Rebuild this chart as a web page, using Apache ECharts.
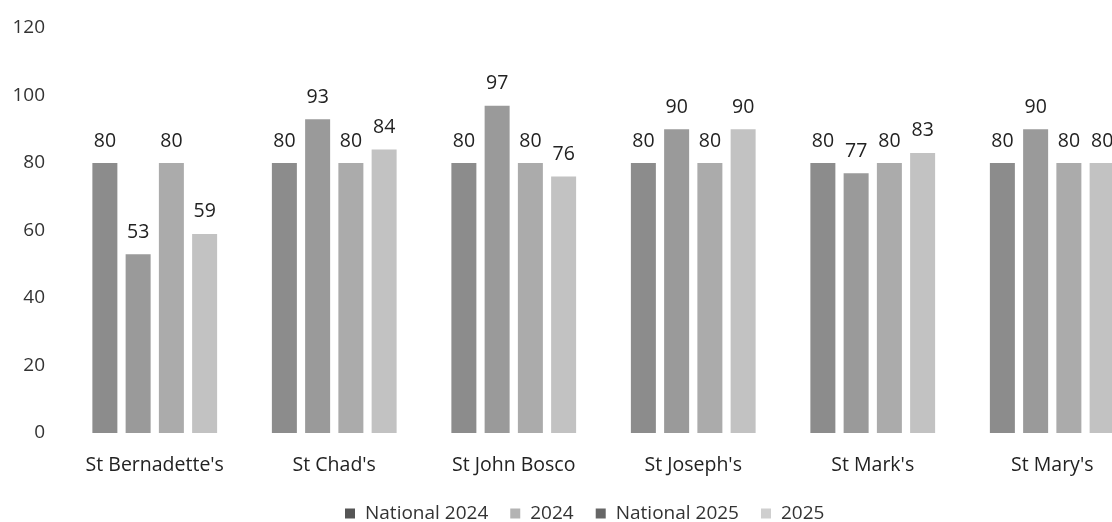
<!DOCTYPE html>
<html>
<head>
<meta charset="utf-8">
<script src="https://cdn.jsdelivr.net/npm/echarts@6/dist/echarts.min.js"></script>
<style>
html,body{margin:0;padding:0;background:#fff;overflow:hidden;}
#chart{width:1142px;height:522px;}
</style>
</head>
<body>
<div id="chart"></div>
<script>
const categories = ["St Bernadette's", "St Chad's", "St John Bosco", "St Joseph's", "St Mark's", "St Mary's"];
const national2024 = [80, 80, 80, 80, 80, 80];
const school2024 = [53, 93, 97, 90, 77, 90];
const national2025 = [80, 80, 80, 80, 80, 80];
const school2025 = [59, 84, 76, 90, 83, 80];
const seriesNames = ["National 2024", "2024", "National 2025", "2025"];
const yTicks = [0, 20, 40, 60, 80, 100, 120];

const barColors = ['#8c8c8c', '#9a9a9a', '#ababab', '#c2c2c2'];
const legendColors = ['#555555', '#b3b3b3', '#666666', '#cfcfcf'];
const FONT = '"Open Sans", sans-serif';

const chart = echarts.init(document.getElementById('chart'), null, {renderer: 'canvas'});
const allData = [national2024, school2024, national2025, school2025];

chart.setOption({
  animation: false,
  backgroundColor: '#ffffff',
  grid: {left: 65, right: 0, top: 28, bottom: 89, containLabel: false},
  legend: {
    top: 499,
    left: 340,
    icon: 'rect',
    itemWidth: 10,
    itemHeight: 10,
    itemGap: 22,
    textStyle: {fontFamily: FONT, fontSize: 19, color: '#333', padding: [0, 0, 0, 5]},
    data: seriesNames.map((n, i) => ({name: n, itemStyle: {color: legendColors[i]}}))
  },
  xAxis: {
    type: 'category',
    data: categories,
    axisLine: {show: false},
    axisTick: {show: false},
    axisLabel: {interval: 0, hideOverlap: false, fontFamily: FONT, fontSize: 19.5, color: '#222', margin: 22}
  },
  yAxis: {
    type: 'value',
    min: yTicks[0],
    max: yTicks[yTicks.length - 1],
    interval: 20,
    splitLine: {show: false},
    axisLine: {show: false},
    axisTick: {show: false},
    axisLabel: {fontFamily: FONT, fontSize: 19, color: '#333', margin: 20}
  },
  series: seriesNames.map((n, i) => ({
    name: n,
    type: 'bar',
    data: allData[i],
    barWidth: 25,
    barGap: '33%',
    itemStyle: {color: barColors[i]},
    label: {show: true, position: 'top', distance: 12, fontFamily: FONT, fontSize: 19.5, color: '#222'}
  }))
});
</script>
</body>
</html>
